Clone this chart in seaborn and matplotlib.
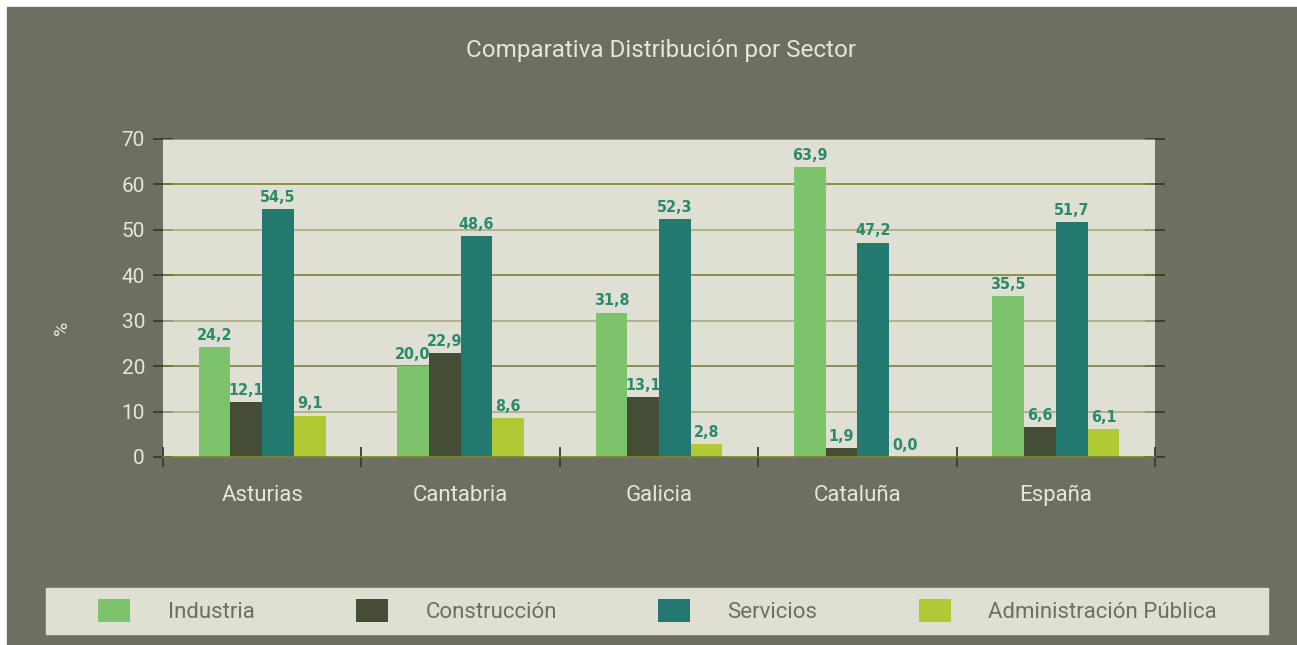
import numpy as np
import pandas as pd
import seaborn as sns
import matplotlib.pyplot as plt
from matplotlib.patches import Rectangle, Patch
from matplotlib.ticker import FixedLocator

# datos
regiones = ['Asturias', 'Cantabria', 'Galicia', 'Cataluña', 'España']
sectores = ['Industria', 'Construcción', 'Servicios', 'Administración Pública']
industria = [24.2, 20.0, 31.8, 63.9, 35.5]
construccion = [12.1, 22.9, 13.1, 1.9, 6.6]
servicios = [54.5, 48.6, 52.3, 47.2, 51.7]
administracion = [9.1, 8.6, 2.8, 0.0, 6.1]
y_ticks = [0, 10, 20, 30, 40, 50, 60, 70]

colores = ['#7dc36b', '#454d36', '#237870', '#b0c935']
fondo = '#6d6f60'
panel = '#dfe0d3'
texto_claro = '#e6e6da'

df = pd.DataFrame({
    'region': regiones * 4,
    'sector': np.repeat(sectores, len(regiones)),
    'valor': industria + construccion + servicios + administracion,
})

sns.set_theme(style='white')
plt.rcParams['font.family'] = ['Roboto', 'DejaVu Sans']

fig = plt.figure(figsize=(12.97, 6.45), dpi=100)
fig.patch.set_facecolor('white')
# marco gris (borde blanco arriba e izquierda)
fig.patches.append(Rectangle((7 / 1297, 0), 1 - 7 / 1297, 1 - 7 / 645,
                             transform=fig.transFigure, color=fondo, zorder=-10))

ax = fig.add_axes([163 / 1297, 1 - 457 / 645, (1155 - 163) / 1297, (457 - 139) / 645])
ax.set_facecolor(panel)

sns.barplot(data=df, x='region', y='valor', hue='sector', palette=colores,
            width=0.64, saturation=1, legend=False, ax=ax, zorder=3,
            edgecolor='none')

# etiquetas de valor con coma decimal
for cont, serie in zip(ax.containers, [industria, construccion, servicios, administracion]):
    ax.bar_label(cont, labels=[f'{v:.1f}'.replace('.', ',') for v in serie],
                 padding=3, color='#2a8a6b', fontsize=11.5,
                 fontfamily='DejaVu Sans', fontstretch='condensed', fontweight='bold')

ax.set_xlim(-0.5, 4.5)
ax.set_ylim(0, 70)
ax.set_yticks(y_ticks)
ax.set_xlabel('')
ax.set_ylabel('')

# lineas de rejilla alternas
for i, t in enumerate(y_ticks[1:]):
    c = '#a9ab82' if i % 2 == 0 else '#7d8232'
    if t == 70:
        c = '#8f9440'
    ax.axhline(t, color=c, lw=1.2, zorder=1)

for s in ['top', 'left', 'right']:
    ax.spines[s].set_visible(False)
ax.spines['bottom'].set_color('#7d8232')
ax.spines['bottom'].set_linewidth(1.2)
ax.spines['bottom'].set_zorder(4)

ax.tick_params(axis='y', which='major', left=True, right=True, direction='inout',
               length=14, width=1.3, color='#3a3b30', labelcolor=texto_claro,
               labelsize=15, pad=6)

ax.xaxis.set_minor_locator(FixedLocator(np.arange(-0.5, 5, 1)))
ax.tick_params(axis='x', which='major', length=0, labelcolor=texto_claro,
               labelsize=16, pad=20)
ax.tick_params(axis='x', which='minor', bottom=True, direction='inout',
               length=15, width=1.3, color='#3a3b30')

# titulo y eje
fig.text(661 / 1297, 1 - 50 / 645, 'Comparativa Distribución por Sector',
         ha='center', va='center', color=texto_claro, fontsize=17.5)
fig.text(62 / 1297, 1 - 328 / 645, '%', rotation=90, ha='center', va='center',
         color=texto_claro, fontsize=14)

# leyenda
fig.patches.append(Rectangle((46 / 1297, 1 - 634 / 645), (1268 - 46) / 1297, 46 / 645,
                             transform=fig.transFigure, color=panel, zorder=-5))
handles = [Patch(facecolor=c, edgecolor='none') for c in colores]
fig.legend(handles, sectores, loc='center left', mode='expand', ncol=4,
           bbox_to_anchor=(98 / 1297, 1 - 624 / 645, (1217 - 98) / 1297, 26 / 645),
           frameon=False, borderpad=0, borderaxespad=0, handlelength=1.44,
           handleheight=1.17, handletextpad=1.7, labelcolor='#6d6f60',
           prop={'size': 16})

fig.savefig('out.png', dpi=100, facecolor=fig.get_facecolor())
